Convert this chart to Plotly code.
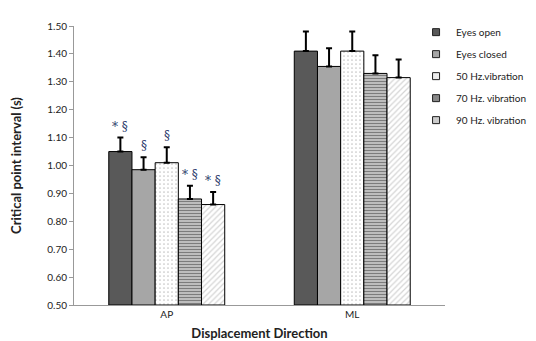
import plotly.graph_objects as go

categories = ["AP", "ML"]
series_names = ["Eyes open", "Eyes closed", "50 Hz.vibration", "70 Hz. vibration", "90 Hz. vibration"]
values = {
    "Eyes open": [1.05, 1.41],
    "Eyes closed": [0.985, 1.355],
    "50 Hz.vibration": [1.01, 1.41],
    "70 Hz. vibration": [0.88, 1.33],
    "90 Hz. vibration": [0.86, 1.315],
}
errors = {
    "Eyes open": [0.05, 0.07],
    "Eyes closed": [0.045, 0.065],
    "50 Hz.vibration": [0.055, 0.07],
    "70 Hz. vibration": [0.047, 0.065],
    "90 Hz. vibration": [0.045, 0.065],
}
# significance markers (AP only)
marks = {
    "Eyes open": ["*§", ""],
    "Eyes closed": ["§", ""],
    "50 Hz.vibration": ["§", ""],
    "70 Hz. vibration": ["*§", ""],
    "90 Hz. vibration": ["*§", ""],
}
y_ticks = [0.5, 0.6, 0.7, 0.8, 0.9, 1.0, 1.1, 1.2, 1.3, 1.4, 1.5]

styles = {
    "Eyes open": dict(color="#595959", legend="#595959", pattern=None),
    "Eyes closed": dict(color="#a6a6a6", legend="#a6a6a6", pattern=None),
    "50 Hz.vibration": dict(color="white", legend="#eeeeee",
                            pattern=dict(shape=".", fgcolor="#8a8a8a", bgcolor="white", size=4, solidity=0.15)),
    "70 Hz. vibration": dict(color="#bbbbbb", legend="#888888",
                             pattern=dict(shape="-", fgcolor="#333333", bgcolor="#c4c4c4", size=3, solidity=0.4)),
    "90 Hz. vibration": dict(color="white", legend="#cccccc",
                             pattern=dict(shape="/", fgcolor="#aaaaaa", bgcolor="white", size=4, solidity=0.3)),
}

FONT = "Lato, 'Open Sans', sans-serif"
bargap = 0.375
n = len(series_names)
bw = (1 - bargap) / n
xpos = list(range(len(categories)))

fig = go.Figure()
for i, name in enumerate(series_names):
    st = styles[name]
    marker = dict(color=st["color"], line=dict(color="black", width=1))
    if st["pattern"]:
        marker["pattern"] = st["pattern"]
    fig.add_trace(go.Bar(
        name=name, x=xpos, y=[v - 0.5 for v in values[name]], base=0.5,
        marker=marker, showlegend=False,
        error_y=dict(type="data", symmetric=False, array=errors[name],
                     arrayminus=[0] * len(categories), color="black", thickness=2, width=3),
    ))
    # legend entry with a small square swatch
    fig.add_trace(go.Scatter(
        name=name, x=[None], y=[None], mode="markers", legendgroup=name,
        marker=dict(symbol="square", size=7, color=st["legend"], line=dict(color="#222222", width=1)),
    ))
    off = -(1 - bargap) / 2 + bw * (i + 0.5)
    for j, m in enumerate(marks[name]):
        if m:
            fig.add_annotation(x=xpos[j] + off, y=values[name][j] + errors[name][j],
                               text=m.replace("*", "* "), showarrow=False, yanchor="bottom",
                               yshift=2, font=dict(family="DejaVu Serif", size=12, color="#2b3a6b"))

fig.update_layout(
    width=536, height=341, barmode="group", bargap=bargap, bargroupgap=0,
    plot_bgcolor="white", paper_bgcolor="white",
    margin=dict(l=66, r=99, t=18, b=44, autoexpand=False),
    font=dict(family=FONT, size=10, color="#222222"),
    legend=dict(x=0.922, y=1.03, xanchor="left", yanchor="top", font=dict(size=10),
                tracegroupgap=3, traceorder="grouped", bgcolor="rgba(0,0,0,0)", itemwidth=30),
    xaxis=dict(tickvals=xpos, ticktext=categories, range=[-0.5, 1.5], showline=True,
               linecolor="#999999", ticks="", showgrid=False, zeroline=False, automargin=False,
               title=dict(text="<b>Displacement Direction</b>", font=dict(size=13), standoff=9),
               tickfont=dict(size=10)),
    yaxis=dict(range=[0.5, 1.5], tickvals=y_ticks, tickformat=".2f", showline=True,
               linecolor="#999999", ticks="outside", ticklen=4, tickcolor="#999999",
               showgrid=False, zeroline=False, tickfont=dict(size=10), automargin=False,
               title=dict(text="<b>Critical point interval (s)</b>", font=dict(size=13), standoff=22)),
)
fig.write_html("out.html")
